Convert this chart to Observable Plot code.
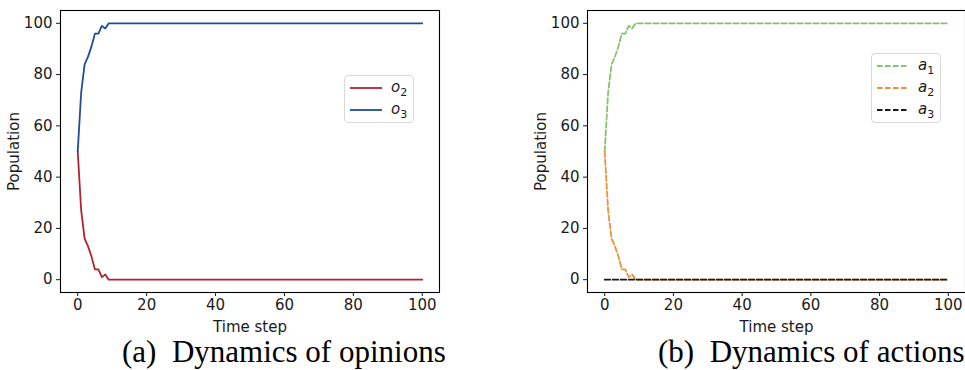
<!DOCTYPE html>
<html><head><meta charset="utf-8">
<script src="https://cdn.jsdelivr.net/npm/d3@7"></script>
<script src="https://cdn.jsdelivr.net/npm/@observablehq/plot@0.6"></script>
<style>
html,body{margin:0;padding:0;background:#fff;}
#root{position:relative;width:965px;height:370px;overflow:hidden;background:#fff;}
.panel{position:absolute;top:0;}
.caption{position:absolute;font-family:"Liberation Serif","Times New Roman",serif;font-size:31px;line-height:31px;color:#000;white-space:nowrap;}
.legend{position:absolute;border:1px solid #d9d9d9;border-radius:4px;background:#fff;font-family:"DejaVu Sans",sans-serif;font-size:15px;color:#1a1a1a;box-sizing:border-box;}
.legend .item{position:absolute;left:0;height:20px;}
.legend svg{position:absolute;left:4px;top:0;}
.legend .lab{position:absolute;left:46px;top:-1px;line-height:20px;white-space:nowrap;}
.legend sub{font-size:11px;vertical-align:-4px;font-style:normal;}
</style></head><body><div id="root"></div>
<script>
// Data
const steps = [0, 1, 2, 3, 4, 5, 6, 7, 8, 9, 100];
const opinion2 = [50, 27, 16, 13, 9, 4, 4, 1, 2, 0, 0];
const opinion3 = [50, 73, 84, 87, 91, 96, 96, 99, 98, 100, 100];
const action1 = [50, 73, 84, 87, 91, 96, 96, 99, 98, 100, 100];
const action2 = [50, 27, 16, 13, 9, 4, 4, 1, 2, 0, 0];
const action3 = [0, 0, 0, 0, 0, 0, 0, 0, 0, 0, 0];
const xTicks = [0, 20, 40, 60, 80, 100];
const yTicks = [0, 20, 40, 60, 80, 100];
const opinionNames = ["o", "o"];
const opinionSubs = ["2", "3"];
const actionNames = ["a", "a", "a"];
const actionSubs = ["1", "2", "3"];
const captions = ["(a)\u2002Dynamics of opinions", "(b)\u2002Dynamics of actions"];

const opinionSeries = [
  {values: opinion2, color: "#b3232f", dash: null, name: opinionNames[0], sub: opinionSubs[0]},
  {values: opinion3, color: "#214c98", dash: null, name: opinionNames[1], sub: opinionSubs[1]}
];
const actionSeries = [
  {values: action1, color: "#86c46c", dash: "5.5,2.5", name: actionNames[0], sub: actionSubs[0]},
  {values: action2, color: "#f39034", dash: "5.5,2.5", name: actionNames[1], sub: actionSubs[1]},
  {values: action3, color: "#1a1a1a", dash: "5.5,2.5", name: actionNames[2], sub: actionSubs[2]}
];

function panel(series, width, marginRight) {
  const marks = [
    Plot.axisX({ticks: xTicks, tickSize: 4, tickPadding: 3, label: "Time step", labelAnchor: "center", labelOffset: 39, labelArrow: "none"}),
    Plot.axisY({ticks: yTicks, tickSize: 4, tickPadding: 4, label: "Population", labelAnchor: "center", labelOffset: 52, labelArrow: "none"})
  ];
  for (const s of series) {
    const rows = steps.map((t, i) => ({t, v: s.values[i]}));
    marks.push(Plot.line(rows, {x: "t", y: "v", stroke: s.color, strokeWidth: 1.8, strokeDasharray: s.dash || undefined}));
  }
  marks.push(Plot.frame({stroke: "black", strokeWidth: 1.1}));
  return Plot.plot({
    width, height: 340,
    marginLeft: 60, marginRight, marginTop: 10, marginBottom: 48,
    x: {domain: [-5, 105]},
    y: {domain: [-5, 105]},
    style: {fontFamily: "DejaVu Sans, sans-serif", fontSize: "15px", color: "#1a1a1a", background: "transparent", overflow: "visible"},
    marks
  });
}

function legend(series, box, rowYs) {
  const div = document.createElement("div");
  div.className = "legend";
  Object.assign(div.style, {left: box.left + "px", top: box.top + "px", width: box.width + "px", height: box.height + "px"});
  series.forEach((s, i) => {
    const it = document.createElement("div");
    it.className = "item";
    it.style.top = (rowYs[i] - 10) + "px";
    it.style.width = "100%";
    it.innerHTML = `<svg width="34" height="20"><line x1="1" x2="33" y1="10" y2="10" stroke="${s.color}" stroke-width="1.8" ${s.dash ? `stroke-dasharray="${s.dash}"` : ""}/></svg><span class="lab"><i>${s.name}</i><sub>${s.sub}</sub></span>`;
    div.appendChild(it);
  });
  return div;
}

const root = document.getElementById("root");
const p1 = panel(opinionSeries, 450, 11);
p1.classList.add("panel"); p1.style.left = "0px";
root.appendChild(p1);
const p2 = panel(actionSeries, 440, 2);
p2.classList.add("panel"); p2.style.left = "527px";
root.appendChild(p2);

root.appendChild(legend(opinionSeries, {left: 344, top: 75, width: 70, height: 48}, [12, 34]));
root.appendChild(legend(actionSeries, {left: 871, top: 53, width: 70, height: 70}, [12, 34, 56]));

[[122, captions[0]], [658, captions[1]]].forEach(([x, txt]) => {
  const c = document.createElement("div");
  c.className = "caption";
  c.style.left = x + "px";
  c.style.top = "336px";
  c.textContent = txt;
  root.appendChild(c);
});
</script></body></html>
